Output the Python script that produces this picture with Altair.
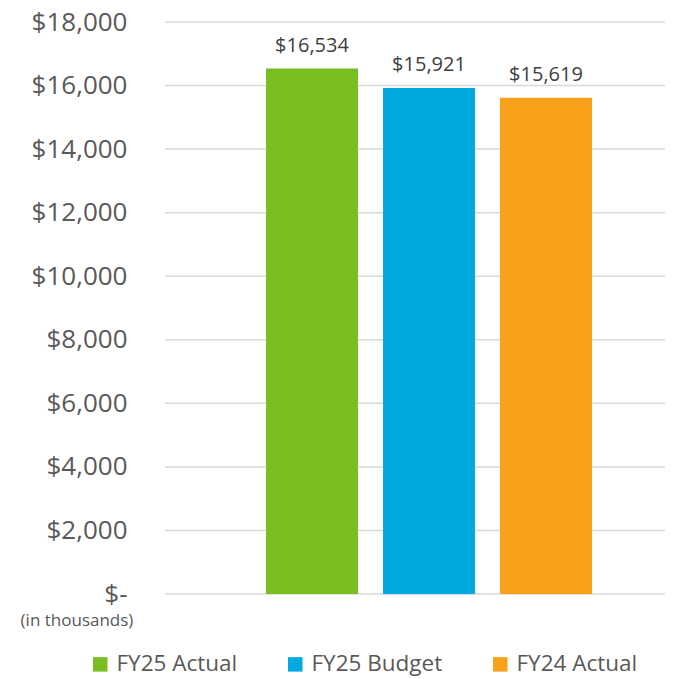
import altair as alt
import pandas as pd

categories = ["FY25 Actual", "FY25 Budget", "FY24 Actual"]
values = [16534, 15921, 15619]
colors = ["#78BE20", "#00A9E0", "#F9A11B"]
y_ticks = [0, 2000, 4000, 6000, 8000, 10000, 12000, 14000, 16000, 18000]

df = pd.DataFrame({"cat": categories, "val": values})
df["label"] = ["$" + format(v, ",") for v in values]
grid_df = pd.DataFrame({"val": y_ticks})

PW, PH = 500, 572
FONT = "Open Sans"

yscale = alt.Scale(domain=[0, 18000], nice=False)
yaxis = alt.Axis(values=y_ticks, domain=False, ticks=False,
                 labelFont=FONT, labelFontSize=26, labelColor="#595959",
                 labelPadding=38, grid=False,
                 labelExpr="datum.value == 0 ? '$-' : '$' + format(datum.value, ',')")
y = alt.Y("val:Q", title=None, scale=yscale, axis=yaxis)

x = alt.X("cat:N", sort=categories, axis=None,
          scale=alt.Scale(range=[101, 427], paddingInner=0.2137, paddingOuter=0))

grid = alt.Chart(grid_df).mark_rule(color="#d9d9d9", strokeWidth=1.5).encode(
    y=y, x=alt.value(0), x2=alt.value(PW),
)

bars = alt.Chart(df).mark_bar().encode(
    x=x, y=y,
    color=alt.Color("cat:N", sort=categories,
                    scale=alt.Scale(domain=categories, range=colors),
                    legend=alt.Legend(title=None, orient="none", direction="horizontal",
                                      legendX=-76, legendY=PH + 59,
                                      symbolType="square", symbolSize=210,
                                      symbolStrokeWidth=0, symbolOpacity=1,
                                      labelFont=FONT, labelFontSize=22.5,
                                      labelColor="#595959", labelOffset=5,
                                      columnPadding=46, padding=0, labelLimit=300)),
)

text = alt.Chart(df).mark_text(font=FONT, fontSize=20, color="#404040",
                               baseline="alphabetic", dy=-17).encode(
    x=x, y=y, text="label:N")

note = alt.Chart(pd.DataFrame({"t": ["(in thousands)"]})).mark_text(
    font=FONT, fontSize=17, color="#595959", align="center", baseline="middle"
).encode(x=alt.value(-88), y=alt.value(PH + 27), text="t:N")

chart = (grid + bars + text + note).properties(
    width=PW, height=PH,
    autosize=alt.AutoSizeParams(type="none"),
    padding={"left": 157, "top": 14, "right": 3, "bottom": 90},
).configure_view(stroke=None)

chart.save("out.html", embed_options={"renderer": "svg", "actions": False})
